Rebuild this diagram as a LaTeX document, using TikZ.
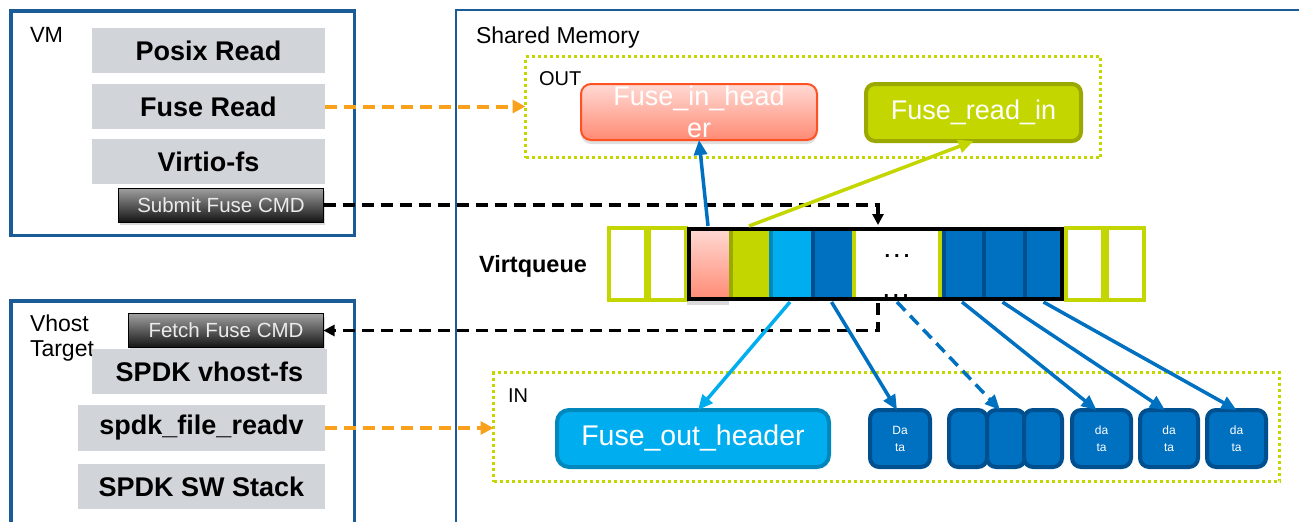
\documentclass[tikz,border=0pt]{standalone}
\usepackage{fontspec}
\setmainfont{Liberation Sans}
\usetikzlibrary{arrows.meta,shadows}

\definecolor{frameblue}{HTML}{1B5B98}
\definecolor{layergray}{HTML}{D1D5DA}
\definecolor{cmdtop}{HTML}{A0A0A0}
\definecolor{cmdbot}{HTML}{141414}
\definecolor{flowor}{HTML}{F9A11B}
\definecolor{lime}{HTML}{C4D600}
\definecolor{limedark}{HTML}{9AA800}
\definecolor{qblue}{HTML}{0070C0}
\definecolor{qbluedark}{HTML}{00508F}
\definecolor{qcyan}{HTML}{00AEEF}
\definecolor{qcyandark}{HTML}{0088BD}
\definecolor{pinktop}{HTML}{FFDAD4}
\definecolor{pinkbot}{HTML}{FF8A74}
\definecolor{pinkedge}{HTML}{FF5222}

\begin{document}
\begin{tikzpicture}[x=1pt, y=-1pt,
  every node/.style={inner sep=0pt, outer sep=0pt},
  hostframe/.style={draw=frameblue, line width=3.5pt},
  memframe/.style={draw=frameblue, line width=2pt},
  layer/.style={fill=layergray, minimum height=45pt,
    font=\fontsize{27}{30}\selectfont\bfseries},
  cmd/.style={draw=black, line width=1pt, top color=cmdtop, bottom color=cmdbot,
    text=white!92!black, minimum height=34pt, font=\fontsize{20.5}{22}\selectfont,
    drop shadow={shadow xshift=1pt, shadow yshift=-3pt, opacity=0.3}},
  zone/.style={draw=lime, line width=3pt, dash pattern=on 3pt off 3pt},
  lbl/.style={anchor=base west, font=\fontsize{#1}{#1}\selectfont},
  datablk/.style={draw=qbluedark, fill=qblue, line width=4pt, rounded corners=9pt,
    minimum height=57pt, minimum width=#1, text=white, align=center,
    font=\fontsize{12}{17}\selectfont},
  slot/.style={draw=lime, fill=white, line width=4pt, minimum width=37pt, minimum height=72pt},
  qcell/.style 2 args={fill=#1, minimum height=72pt,
    path picture={\fill[#2] (path picture bounding box.south west) rectangle
      ([xshift=4pt]path picture bounding box.north west);}},
  orflow/.style={draw=flowor, line width=4pt, dash pattern=on 12pt off 7pt,
    -{Triangle[length=13pt,width=13pt]}},
  cmdflow/.style={draw=black, line width=3.5pt, dash pattern=on 12pt off 7pt,
    -{Triangle[length=11pt,width=11pt]}},
  link/.style={draw=#1, line width=3.5pt, -{Triangle[length=15pt,width=13pt]}},
]
\useasboundingbox (0,0) rectangle (1299,522);

% ---------- shared memory region ----------
\node[memframe, minimum width=884pt, minimum height=550pt] (shm) at (898,285) {};
\node[lbl=23] (shmlbl) at (476,43) {Shared Memory};

% ---------- guest side ----------
\node[hostframe, minimum width=343.5pt, minimum height=224.5pt] (vmbox) at (182.5,123) {};
\node[lbl=22] (vmlbl) at (30,42) {VM};
\node[layer, minimum width=233pt] (posix) at (208.5,50.5) {Posix Read};
\node[layer, minimum width=233pt] (fuseread) at (208.5,106.5) {Fuse Read};
\node[layer, minimum width=233pt] (virtiofs) at (208.5,161.5) {Virtio-fs};
\node[cmd, minimum width=205pt] (submit) at (221,205) {Submit Fuse CMD};

% ---------- host side ----------
\node[hostframe, minimum width=343.5pt, minimum height=259pt] (vhostbox) at (182.5,430.4) {};
\node[anchor=north west, align=left, font=\fontsize{23}{25}\selectfont] (vhostlbl) at (30,315) {Vhost\\Target};
\node[cmd, minimum width=195pt] (fetch) at (226,330.5) {Fetch Fuse CMD};
\node[layer, minimum width=235pt] (vhostfs) at (209.5,371.5) {SPDK vhost-fs};
\node[layer, minimum width=247pt, minimum height=46pt] (readv) at (201.5,428) {spdk\_file\_readv};
\node[layer, minimum width=247pt] (swstack) at (201.5,486.5) {SPDK SW Stack};

% ---------- OUT buffers ----------
\node[zone, minimum width=575pt, minimum height=101pt] (outzone) at (813,107) {};
\node[lbl=20] (outlbl) at (539,85) {OUT};
\node[draw=pinkedge, line width=2pt, top color=pinktop, bottom color=pinkbot,
  rounded corners=10pt, minimum width=236pt, minimum height=56pt,
  drop shadow={shadow xshift=0pt, shadow yshift=-4pt, opacity=0.25},
  text=white, align=center, font=\fontsize{27}{32}\selectfont] (fih) at (699,112)
  {Fuse\_in\_head\\er};
\node[draw=limedark, fill=lime, line width=4pt, rounded corners=9pt,
  minimum width=215pt, minimum height=57pt, text=white,
  font=\fontsize{27}{30}\selectfont] (fri) at (973.5,112.5) {Fuse\_read\_in};

% ---------- IN buffers ----------
\node[zone, minimum width=786pt, minimum height=109pt] (inzone) at (886.5,427) {};
\node[lbl=20] (inlbl) at (508,402) {IN};
\node[draw=qcyandark, fill=qcyan, line width=4pt, rounded corners=12pt,
  minimum width=272pt, minimum height=57pt, text=white,
  font=\fontsize{28.5}{30}\selectfont] (foh) at (693,438.5) {Fuse\_out\_header};
\node[datablk=60pt] (data0) at (900,438.5) {Da\\ta};
\node[datablk=38pt] (blk1) at (968,438.5) {};
\node[datablk=38pt] (blk2) at (1006,438.5) {};
\node[datablk=38pt] (blk3) at (1043,438.5) {};
\node[datablk=59pt] (data1) at (1101.5,438.5) {da\\ta};
\node[datablk=58pt] (data2) at (1169,438.5) {da\\ta};
\node[datablk=59pt] (data3) at (1236.5,438.5) {da\\ta};

% ---------- virtqueue ----------
\node[anchor=center, font=\fontsize{23.5}{24}\selectfont\bfseries] (vqlbl) at (533,266) {Virtqueue};
\node[slot] (slot1) at (627,264) {};
\node[slot] (slot2) at (667.5,264) {};
\node[slot] (slot3) at (1084.5,264) {};
\node[slot] (slot4) at (1125.5,264) {};
\node[top color=pinktop, bottom color=pinkbot, minimum width=42pt, minimum height=72pt,
  drop shadow={shadow xshift=0pt, shadow yshift=-5pt, opacity=0.3}] (c1) at (708,264) {};
\node[qcell={lime}{limedark}, minimum width=40pt] (c2) at (749,264) {};
\node[qcell={qcyan}{qcyandark}, minimum width=42pt] (c3) at (790,264) {};
\node[qcell={qblue}{qbluedark}, minimum width=41pt] (c4) at (831.5,264) {};
\node[fill=white, minimum width=90pt, minimum height=72pt,
  path picture={\fill[lime] (path picture bounding box.south west) rectangle
      ([xshift=4pt]path picture bounding box.north west);
    \fill[lime] (path picture bounding box.south east) rectangle
      ([xshift=-4pt]path picture bounding box.north east);}] (c5) at (897,264) {};
\node[qcell={qblue}{qbluedark}, minimum width=40pt] (c6) at (962,264) {};
\node[qcell={qblue}{qbluedark}, minimum width=41pt] (c7) at (1002.5,264) {};
\node[qcell={qblue}{qbluedark}, minimum width=41pt] (c8) at (1043.5,264) {};
\node[anchor=base, font=\fontsize{20}{20}\selectfont\bfseries] (dotsmid) at (897,257) {.\hspace{4pt}.\hspace{4pt}.};
\node[anchor=base, font=\fontsize{20}{20}\selectfont\bfseries] (dotslow) at (896,297.5) {.\hspace{4pt}.\hspace{4pt}.};
\node[draw=black, line width=4pt, minimum width=373pt, minimum height=70pt] (vq) at (875.5,264) {};

\coordinate (kin) at (878,225);
\coordinate (kout) at (878,303);

% ---------- data movement ----------
\draw[orflow] (fuseread.east) -- (fuseread.east -| outzone.west);
\draw[orflow] (readv.east) -- (readv.east -| inzone.west);
\draw[cmdflow] (submit.east) -| (kin);
\draw[cmdflow] (kout) |- (fetch.east);

% ---------- descriptor links ----------
\draw[link=qblue] ([yshift=2pt]c1.north) -- (fih.south);
\draw[link=lime] ([yshift=2pt]c2.north) -- (fri.south);
\draw[link=qcyan] ([yshift=-2pt]c3.south) -- ([xshift=5pt]foh.north);
\draw[link=qblue] ([yshift=-2pt]c4.south) -- ([xshift=-3pt]data0.north);
\draw[link=qblue, dash pattern=on 12pt off 7pt] ([yshift=-2pt]c5.south) -- ([xshift=-6pt]blk2.north);
\draw[link=qblue] ([yshift=-2pt]c6.south) -- ([xshift=-5pt]data1.north);
\draw[link=qblue] ([yshift=-2pt]c7.south) -- ([xshift=-4pt]data2.north);
\draw[link=qblue] ([yshift=-2pt]c8.south) -- (data3.north);
\end{tikzpicture}
\end{document}
